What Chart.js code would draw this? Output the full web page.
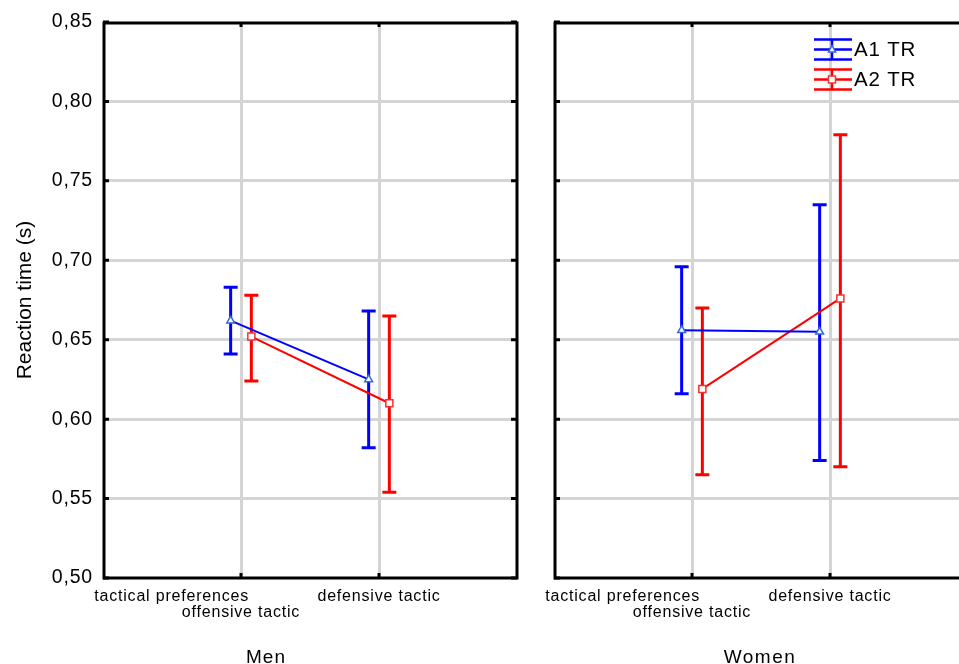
<!DOCTYPE html>
<html>
<head>
<meta charset="utf-8">
<script src="https://cdn.jsdelivr.net/npm/chart.js@4.4.1/dist/chart.umd.min.js"></script>
<style>
  html, body { margin: 0; padding: 0; background: #fff; }
  #page { position: relative; width: 959px; height: 664px; overflow: hidden; }
  #menCanvas { position: absolute; left: 0; top: 0; }
  #womenCanvas { position: absolute; left: 535px; top: 0; }
</style>
</head>
<body>
<div id="page">
  <canvas id="menCanvas" width="540" height="664"></canvas>
  <canvas id="womenCanvas" width="445" height="664"></canvas>
</div>
<script>
'use strict';

// categories and tick labels
const categories = ['offensive tactic', 'defensive tactic'];
const factorName = 'tactical preferences';
const seriesNames = ['A1 TR', 'A2 TR'];
const yTickValues = [0.50, 0.55, 0.60, 0.65, 0.70, 0.75, 0.80, 0.85];
const yTickLabels = ['0,50', '0,55', '0,60', '0,65', '0,70', '0,75', '0,80', '0,85'];

// men: means and error bar ends
const menA1Mean = [0.662, 0.625];
const menA1Low = [0.641, 0.582];
const menA1High = [0.683, 0.668];
const menA2Mean = [0.652, 0.610];
const menA2Low = [0.624, 0.554];
const menA2High = [0.678, 0.665];

// women
const womenA1Mean = [0.656, 0.655];
const womenA1Low = [0.616, 0.574];
const womenA1High = [0.696, 0.735];
const womenA2Mean = [0.619, 0.676];
const womenA2Low = [0.565, 0.570];
const womenA2High = [0.670, 0.779];

// small horizontal shift so the two series don't overlap
const seriesShift = [-0.075, 0.075];

const BLUE = '#0000ff';
const RED = '#ff0000';
const GRID = '#d4d4d4';
const FONT = '"Liberation Sans", Arial, sans-serif';

Chart.defaults.font.family = FONT;

function drawMarker(ctx, style, x, y, color) {
  ctx.save();
  ctx.strokeStyle = color;
  ctx.fillStyle = '#fff';
  ctx.lineWidth = 1.5;
  ctx.beginPath();
  if (style === 'triangle') {
    ctx.moveTo(x, y - 4);
    ctx.lineTo(x + 3.5, y + 2.5);
    ctx.lineTo(x - 3.5, y + 2.5);
    ctx.closePath();
  } else {
    ctx.rect(x - 3.5, y - 3.5, 7, 7);
  }
  ctx.fill();
  ctx.stroke();
  ctx.restore();
}

function text(ctx, str, x, y, size, align, spacing) {
  ctx.font = size + 'px ' + FONT;
  ctx.textAlign = align;
  ctx.letterSpacing = spacing + 'px';
  ctx.fillText(str, x, y);
  ctx.letterSpacing = '0px';
}

const panelPlugin = {
  id: 'panel',
  beforeDatasetsDraw(chart) {
    const ctx = chart.ctx;
    const yScale = chart.scales.y;
    ctx.save();
    chart.data.datasets.forEach((ds, di) => {
      const meta = chart.getDatasetMeta(di);
      ctx.strokeStyle = ds.borderColor;
      ctx.lineWidth = 3;
      meta.data.forEach((pt, i) => {
        const yLo = yScale.getPixelForValue(ds.errLow[i]);
        const yHi = yScale.getPixelForValue(ds.errHigh[i]);
        ctx.beginPath();
        ctx.moveTo(pt.x, yLo);
        ctx.lineTo(pt.x, yHi);
        ctx.moveTo(pt.x - 7, yLo);
        ctx.lineTo(pt.x + 7, yLo);
        ctx.moveTo(pt.x - 7, yHi);
        ctx.lineTo(pt.x + 7, yHi);
        ctx.stroke();
      });
    });
    ctx.restore();
  },
  afterDraw(chart, args, opts) {
    const ctx = chart.ctx;
    const area = chart.chartArea;
    const xScale = chart.scales.x;
    const yScale = chart.scales.y;
    ctx.save();

    // frame
    ctx.strokeStyle = '#000';
    ctx.lineWidth = 3;
    ctx.strokeRect(area.left + 1, area.top + 1, area.right - area.left - 1, area.bottom - area.top - 1);

    // inner tick marks
    ctx.lineWidth = 3;
    ctx.beginPath();
    yTickValues.forEach(v => {
      const py = yScale.getPixelForValue(v);
      ctx.moveTo(area.left, py);
      ctx.lineTo(area.left + 6, py);
      ctx.moveTo(area.right, py);
      ctx.lineTo(area.right - 6, py);
    });
    categories.forEach((c, i) => {
      const px = xScale.getPixelForValue(i + 1);
      ctx.moveTo(px, area.top);
      ctx.lineTo(px, area.top + 5);
      ctx.moveTo(px, area.bottom);
      ctx.lineTo(px, area.bottom - 5);
    });
    ctx.stroke();

    ctx.fillStyle = '#000';
    ctx.textBaseline = 'alphabetic';

    // y tick labels and title
    if (opts.yLabels) {
      ctx.textBaseline = 'middle';
      yTickValues.forEach((v, i) => {
        text(ctx, yTickLabels[i], area.left - 10, yScale.getPixelForValue(v), 19.5, 'right', 0.8);
      });
      ctx.textBaseline = 'alphabetic';
      ctx.save();
      ctx.translate(31, (area.top + area.bottom) / 2);
      ctx.rotate(-Math.PI / 2);
      text(ctx, 'Reaction time (s)', 0, 0, 21, 'center', 0);
      ctx.restore();
    }

    // x labels: factor name + staggered category labels
    const firstX = xScale.getPixelForValue(1);
    text(ctx, factorName, firstX + 8, area.bottom + 23, 16, 'right', 0.8);
    categories.forEach((c, i) => {
      const px = xScale.getPixelForValue(i + 1);
      const row = i % 2 === 0 ? 1 : 0;
      text(ctx, c, px, area.bottom + 23 + row * 16, 16, 'center', 0.8);
    });

    // panel title
    text(ctx, opts.title, opts.titleX, 663, 19, 'center', opts.titleSpacing);

    // legend
    if (opts.legend) {
      const lx = opts.legendX;
      const styles = ['triangle', 'rect'];
      const colors = [BLUE, RED];
      const markColors = ['#3366dd', '#ee3333'];
      opts.legendY.forEach((ly, i) => {
        ctx.strokeStyle = colors[i];
        ctx.lineWidth = 2.5;
        ctx.beginPath();
        [-10, 0, 10].forEach(d => {
          ctx.moveTo(lx - 18, ly + d);
          ctx.lineTo(lx + 20, ly + d);
        });
        ctx.moveTo(lx, ly - 10);
        ctx.lineTo(lx, ly + 10);
        ctx.stroke();
        drawMarker(ctx, styles[i], lx, ly, markColors[i]);
        ctx.fillStyle = '#000';
        ctx.textBaseline = 'middle';
        text(ctx, seriesNames[i], lx + 22, ly + 1, 20.5, 'left', 0.8);
        ctx.textBaseline = 'alphabetic';
      });
    }
    ctx.restore();
  }
};

function makeDataset(name, means, lows, highs, color, markColor, style, shift) {
  return {
    label: name,
    data: means.map((v, i) => ({ x: i + 1 + shift, y: v })),
    errLow: lows,
    errHigh: highs,
    borderColor: color,
    borderWidth: 2,
    pointStyle: style,
    pointRadius: style === 'triangle' ? 4.5 : 5,
    pointBorderWidth: 1.5,
    pointBorderColor: markColor,
    pointBackgroundColor: '#fff',
    showLine: true,
    tension: 0
  };
}

function makePanel(canvasId, datasets, yAxisWidth, padRight, panelOpts) {
  return new Chart(document.getElementById(canvasId), {
    type: 'scatter',
    data: { datasets: datasets },
    options: {
      responsive: false,
      animation: false,
      devicePixelRatio: 1,
      layout: { padding: { top: 22, right: padRight, left: 0, bottom: 0 } },
      plugins: {
        legend: { display: false },
        tooltip: { enabled: false },
        panel: panelOpts
      },
      scales: {
        x: {
          type: 'linear',
          min: 0,
          max: 3,
          afterBuildTicks: scale => {
            scale.ticks = categories.map((c, i) => ({ value: i + 1 }));
          },
          afterFit: scale => { scale.height = 86; },
          ticks: { display: false },
          border: { display: false },
          grid: { color: GRID, lineWidth: 3, drawTicks: false }
        },
        y: {
          type: 'linear',
          min: yTickValues[0],
          max: yTickValues[yTickValues.length - 1],
          afterBuildTicks: scale => {
            scale.ticks = yTickValues.map(v => ({ value: v }));
          },
          afterFit: scale => { scale.width = yAxisWidth; },
          ticks: { display: false },
          border: { display: false },
          grid: {
            color: c => (c.index === 0 || c.index === yTickValues.length - 1) ? 'rgba(0,0,0,0)' : GRID,
            lineWidth: 3,
            drawTicks: false
          }
        }
      }
    },
    plugins: [panelPlugin]
  });
}

makePanel('menCanvas', [
  makeDataset(seriesNames[0], menA1Mean, menA1Low, menA1High, BLUE, '#3366dd', 'triangle', seriesShift[0]),
  makeDataset(seriesNames[1], menA2Mean, menA2Low, menA2High, RED, '#ee3333', 'rect', seriesShift[1])
], 103, 23, { yLabels: true, title: 'Men', titleX: 266, titleSpacing: 1, legend: false });

makePanel('womenCanvas', [
  makeDataset(seriesNames[0], womenA1Mean, womenA1Low, womenA1High, BLUE, '#3366dd', 'triangle', seriesShift[0]),
  makeDataset(seriesNames[1], womenA2Mean, womenA2Low, womenA2High, RED, '#ee3333', 'rect', seriesShift[1])
], 19, 12, { yLabels: false, title: 'Women', titleX: 225, titleSpacing: 1.5, legend: true, legendX: 297, legendY: [49.5, 79.5] });
</script>
</body>
</html>
